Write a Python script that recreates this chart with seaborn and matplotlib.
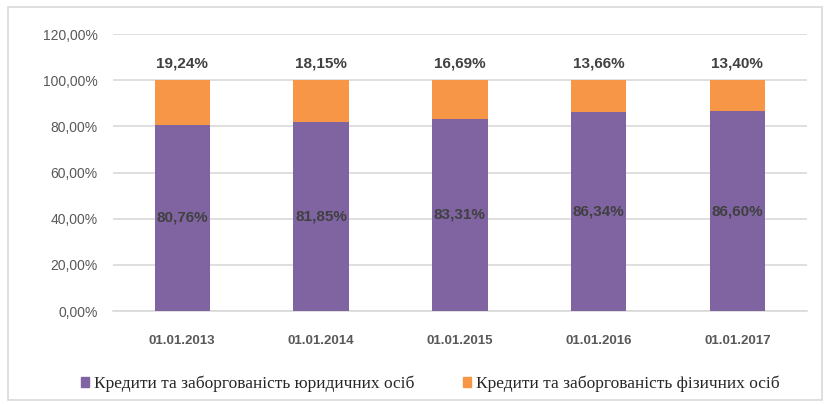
import numpy as np
import pandas as pd
import matplotlib
matplotlib.use("Agg")
import matplotlib.pyplot as plt
import seaborn as sns
from matplotlib.patches import Patch, Rectangle

# Data
dates = ["01.01.2013", "01.01.2014", "01.01.2015", "01.01.2016", "01.01.2017"]
legal_share = [80.76, 81.85, 83.31, 86.34, 86.60]
private_share = [19.24, 18.15, 16.69, 13.66, 13.40]
legal_name = "Кредити та заборгованість юридичних осіб"
private_name = "Кредити та заборгованість фізичних осіб"

PURPLE = "#8064A2"
ORANGE = "#F79646"
TEXT = "#404040"


def fmt_pct(v):
    return f"{v:.2f}%".replace(".", ",")


def main():
    sns.set_style("white")
    plt.rcParams["font.family"] = ["Liberation Sans", "DejaVu Sans"]

    df = pd.DataFrame({"date": dates, "legal": legal_share, "private": private_share})
    df["total"] = df["legal"] + df["private"]

    fig = plt.figure(figsize=(8.24, 4.05), dpi=100)
    ax = fig.add_axes([0.137, 0.232, 0.842, 0.684])

    # outer chart border
    fig.patches.append(Rectangle((8 / 824, 5 / 405), 814 / 824, 393 / 405,
                                 transform=fig.transFigure, fill=False,
                                 edgecolor="#D9D9D9", linewidth=1.2))

    sns.barplot(data=df, x="date", y="total", color=ORANGE, width=0.4,
                saturation=1, ax=ax, zorder=3, edgecolor="none")
    sns.barplot(data=df, x="date", y="legal", color=PURPLE, width=0.4,
                saturation=1, ax=ax, zorder=3, edgecolor="none")

    ax.set_ylim(0, 120)
    ax.set_xlim(-0.5, len(dates) - 0.5)
    ax.set_yticks(np.arange(0, 121, 20))
    ax.set_yticklabels([fmt_pct(v) for v in np.arange(0, 121, 20)],
                       fontsize=10, color="#595959")
    ax.set_xticks(range(len(dates)))
    ax.set_xticklabels(dates, fontsize=9.5, color="#595959", fontweight="bold")
    ax.set_xticks(np.arange(-0.5, len(dates), 1), minor=True)
    ax.tick_params(axis="x", which="major", length=0, pad=17)
    ax.tick_params(axis="x", which="minor", length=5, color="#D9D9D9", width=1)
    ax.tick_params(axis="y", length=0, pad=11)
    ax.set_xlabel("")
    ax.set_ylabel("")

    ax.grid(axis="y", color="#D9D9D9", linewidth=1.2, zorder=0)
    ax.set_axisbelow(True)
    for side in ["top", "right", "left"]:
        ax.spines[side].set_visible(False)
    ax.spines["bottom"].set_color("#D9D9D9")
    ax.spines["bottom"].set_linewidth(1.2)

    for i, row in df.iterrows():
        ax.text(i, row["legal"] / 2, fmt_pct(row["legal"]), ha="center",
                va="center", fontsize=11, fontweight="bold", color=TEXT, zorder=5)
        ax.text(i, row["total"] + 4, fmt_pct(row["private"]), ha="center",
                va="bottom", fontsize=11, fontweight="bold", color=TEXT, zorder=5)

    handles = [Patch(color=PURPLE, label=legal_name),
               Patch(color=ORANGE, label=private_name)]
    fig.legend(handles=handles, loc="center", bbox_to_anchor=(0.522, 0.052),
               ncol=2, frameon=False, handlelength=0.5, handleheight=0.5,
               handletextpad=0.25, columnspacing=2.8,
               prop={"family": "Liberation Serif", "size": 12.5})

    fig.savefig("out.png", dpi=100)
    plt.close(fig)


if __name__ == "__main__":
    main()
